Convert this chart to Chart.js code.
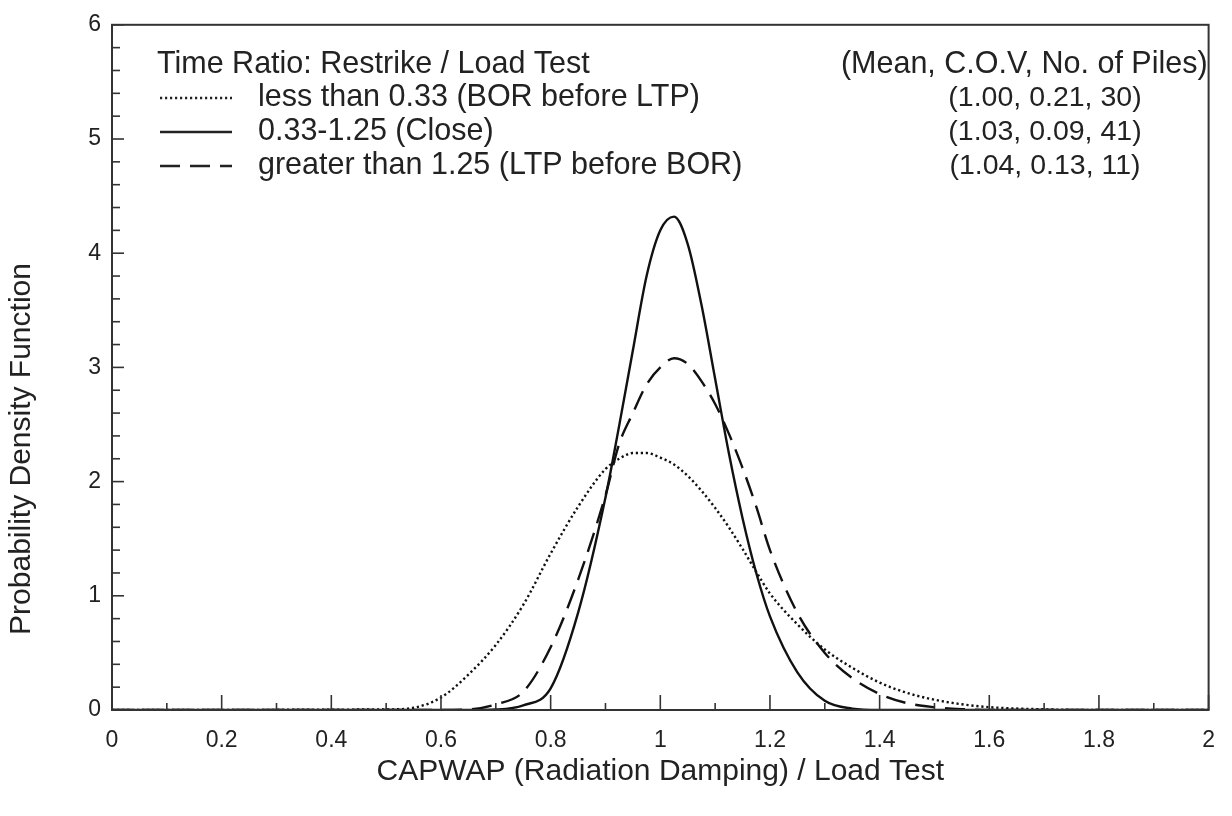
<!DOCTYPE html>
<html><head><meta charset="utf-8">
<script src="https://cdn.jsdelivr.net/npm/chart.js@4.4.1/dist/chart.umd.min.js"></script>
<style>html,body{margin:0;padding:0;background:#fff;}#wrap{width:1232px;height:816px;}</style>
</head><body><div id="wrap"><canvas id="c" width="1232" height="816"></canvas></div>
<script>
// ---- data ----
const xValues = [0, 0.5, 0.55, 0.6, 0.65, 0.7, 0.75, 0.8, 0.85, 0.9,
                 0.925, 0.95, 0.975, 1.0, 1.025, 1.05, 1.075, 1.1, 1.125, 1.15,
                 1.175, 1.2, 1.25, 1.3, 1.35, 1.4, 1.45, 1.5, 1.55, 1.6,
                 1.7, 1.8, 2.0];
const lessThan033 = [0, 0.005, 0.02, 0.11, 0.31, 0.57, 0.92, 1.37, 1.78, 2.11,
                     2.2, 2.25, 2.25, 2.21, 2.15, 2.05, 1.92, 1.77, 1.6, 1.41,
                     1.21, 1.02, 0.75, 0.53, 0.37, 0.24, 0.15, 0.09, 0.05, 0.025,
                     0.006, 0, 0];
const close033to125 = [0, 0, 0, 0, 0, 0.004, 0.04, 0.19, 0.85, 1.86,
                       2.49, 3.15, 3.8, 4.2, 4.32, 4.08, 3.55, 2.9, 2.25, 1.68,
                       1.2, 0.82, 0.33, 0.08, 0.012, 0, 0, 0, 0, 0,
                       0, 0, 0];
const greaterThan125 = [0, 0, 0, 0, 0.005, 0.05, 0.16, 0.55, 1.14, 1.88,
                        2.33, 2.6, 2.85, 3.0, 3.08, 3.03, 2.88, 2.68, 2.42, 2.12,
                        1.78, 1.4, 0.85, 0.5, 0.28, 0.14, 0.06, 0.025, 0.008, 0,
                        0, 0, 0];
const seriesLabels = ["less than 0.33 (BOR before LTP)", "0.33-1.25 (Close)", "greater than 1.25 (LTP before BOR)"];
const statsHeader = "(Mean, C.O.V, No. of Piles)";
const statsRows = ["(1.00, 0.21, 30)", "(1.03, 0.09, 41)", "(1.04, 0.13, 11)"];
const legendTitle = "Time Ratio: Restrike / Load Test";
const xTitle = "CAPWAP (Radiation Damping) / Load Test";
const yTitle = "Probability Density Function";

const FONT = '"Liberation Sans", Arial, Helvetica, sans-serif';
const INK = '#222';
const dashStyles = [[2.2, 2.8], [], [20, 10]];
const widths = [2.4, 2.4, 2.4];

function pts(ys) { return xValues.map((x, i) => ({x: x, y: ys[i]})); }

const frame = {
  id: 'frame',
  afterDraw(chart) {
    const ctx = chart.ctx, a = chart.chartArea;
    const xs = chart.scales.x, ys = chart.scales.y;
    ctx.save();
    ctx.strokeStyle = '#333';
    ctx.lineWidth = 2;
    ctx.strokeRect(a.left, a.top, a.right - a.left, a.bottom - a.top);
    ctx.lineWidth = 1.6;
    // inward x ticks
    for (let i = 0; i <= 20; i++) {
      const px = xs.getPixelForValue(i / 10);
      const len = i % 2 === 0 ? 15 : 7;
      ctx.beginPath(); ctx.moveTo(px, a.bottom); ctx.lineTo(px, a.bottom - len); ctx.stroke();
    }
    // inward y ticks
    for (let i = 0; i <= 30; i++) {
      const py = ys.getPixelForValue(i / 5);
      const len = i % 5 === 0 ? 12 : 8;
      ctx.beginPath(); ctx.moveTo(a.left, py); ctx.lineTo(a.left + len, py); ctx.stroke();
    }
    // y title
    ctx.fillStyle = INK;
    ctx.font = '30px ' + FONT;
    ctx.textAlign = 'center'; ctx.textBaseline = 'middle';
    ctx.save();
    ctx.translate(22, 449);
    ctx.rotate(-Math.PI / 2);
    ctx.fillText(yTitle, 0, 0);
    ctx.restore();
    // legend block
    ctx.font = '30.5px ' + FONT;
    ctx.textAlign = 'left';
    ctx.fillText(legendTitle, a.left + 45, 65);
    const rowY = [98, 132, 166];
    for (let k = 0; k < 3; k++) {
      ctx.beginPath();
      ctx.setLineDash(dashStyles[k]);
      ctx.lineWidth = widths[k];
      ctx.strokeStyle = '#222';
      ctx.moveTo(a.left + 48, rowY[k]); ctx.lineTo(a.left + 120, rowY[k]);
      ctx.stroke();
      ctx.setLineDash([]);
      ctx.fillText(seriesLabels[k], a.left + 146, rowY[k]);
    }
    ctx.textAlign = 'right';
    ctx.fillText(statsHeader, a.right - 1, 65);
    ctx.textAlign = 'center';
    ctx.font = '28.5px ' + FONT;
    for (let k = 0; k < 3; k++) ctx.fillText(statsRows[k], 1045, rowY[k]);
    ctx.restore();
  }
};

new Chart(document.getElementById('c'), {
  type: 'line',
  data: {
    datasets: [
      {label: seriesLabels[0], data: pts(lessThan033), borderColor: '#111', borderWidth: widths[0], borderDash: dashStyles[0]},
      {label: seriesLabels[1], data: pts(close033to125), borderColor: '#111', borderWidth: widths[1], borderDash: dashStyles[1]},
      {label: seriesLabels[2], data: pts(greaterThan125), borderColor: '#111', borderWidth: widths[2], borderDash: dashStyles[2]}
    ]
  },
  options: {
    responsive: false,
    animation: false,
    devicePixelRatio: 1,
    layout: {padding: {top: 22, right: 13, left: 0, bottom: 0}},
    elements: {point: {radius: 0}, line: {cubicInterpolationMode: 'monotone', fill: false}},
    plugins: {legend: {display: false}, tooltip: {enabled: false}},
    scales: {
      x: {
        type: 'linear', min: 0, max: 2,
        grid: {display: false, drawTicks: false}, border: {display: false},
        ticks: {stepSize: 0.2, padding: 17, color: INK, font: {family: FONT, size: 23}, maxRotation: 0, autoSkip: false,
                callback: v => String(Number(v.toFixed(1)))},
        title: {display: true, text: xTitle, color: INK, font: {family: FONT, size: 30}, padding: {top: 0, bottom: 26}},
        afterFit: s => { s.height = 106; }
      },
      y: {
        type: 'linear', min: 0, max: 6,
        grid: {display: false, drawTicks: false}, border: {display: false},
        ticks: {stepSize: 1, padding: 11, color: INK, font: {family: FONT, size: 23}},
        afterFit: s => { s.width = 112; }
      }
    }
  },
  plugins: [frame]
});
</script></body></html>
